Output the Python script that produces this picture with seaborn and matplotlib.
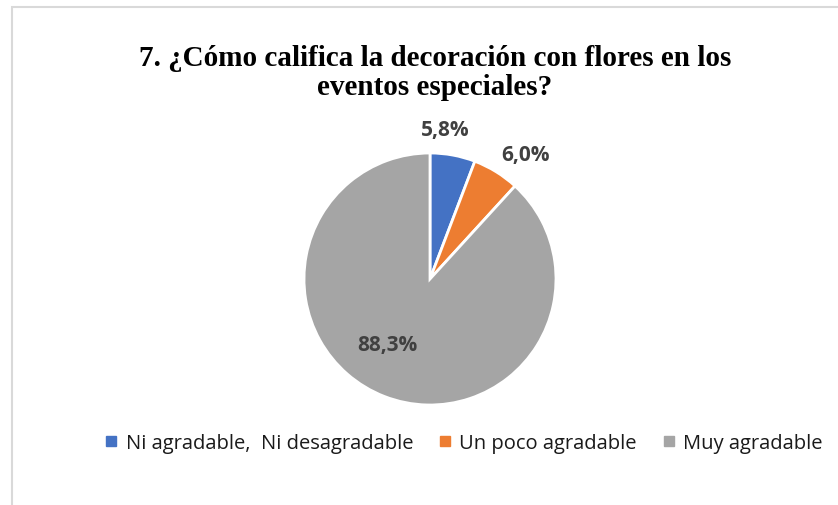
import matplotlib
matplotlib.use("Agg")
import matplotlib.pyplot as plt
import seaborn as sns
import numpy as np
from matplotlib.lines import Line2D
from matplotlib.patches import Rectangle

sns.set_theme(style="white")
plt.rcParams['font.family'] = ['Open Sans', 'DejaVu Sans']

categories = ["Ni agradable,  Ni desagradable", "Un poco agradable", "Muy agradable"]
values = [5.8, 6.0, 88.3]
labels = ["5,8%", "6,0%", "88,3%"]
colors = ["#4472C4", "#ED7D31", "#A5A5A5"]
title = "7. ¿Cómo califica la decoración con flores en los\neventos especiales?"

W, H = 838, 506
fig = plt.figure(figsize=(W / 100, H / 100), dpi=100)
fig.patch.set_facecolor("white")

# border
fig.add_artist(Rectangle((12 / W, -0.01), 1.1, (H - 8) / H + 0.01, transform=fig.transFigure,
                         fill=False, edgecolor="#D9D9D9", linewidth=1.5))

cx, cy, r = 430, 280, 126
ax = fig.add_axes([(cx - r) / W, (H - cy - r) / H, 2 * r / W, 2 * r / H])
wedges, _ = ax.pie(values, colors=colors, startangle=90, counterclock=False, radius=1,
                   wedgeprops=dict(edgecolor="white", linewidth=2))
ax.set_xlim(-1, 1)
ax.set_ylim(-1, 1)
ax.axis("off")

label_pos = [(0.12, 1.19), (0.76, 0.99), (-0.34, -0.52)]
for (x, y), lab in zip(label_pos, labels):
    ax.text(x, y, lab, ha="center", va="center", fontsize=15, fontweight="bold",
            color="#404040", family=["Open Sans", "DejaVu Sans"])

fig.text(435 / W, 1 - 73 / H, title, ha="center", va="center", fontsize=21,
         fontweight="bold", family=["Liberation Serif", "DejaVu Serif"], color="black",
         linespacing=1.1)

handles = [Line2D([], [], marker="s", linestyle="", markersize=6.5, markerfacecolor=c,
                  markeredgecolor=c) for c in colors]
leg = fig.legend(handles, categories, loc="center", bbox_to_anchor=(464 / W, 1 - 444 / H),
                 ncol=3, frameon=False, fontsize=14.5, handlelength=0.6, handletextpad=0.4,
                 columnspacing=1.3)
for t in leg.get_texts():
    t.set_color("#1a1a1a")

fig.savefig("out.png", dpi=100, facecolor="white")
